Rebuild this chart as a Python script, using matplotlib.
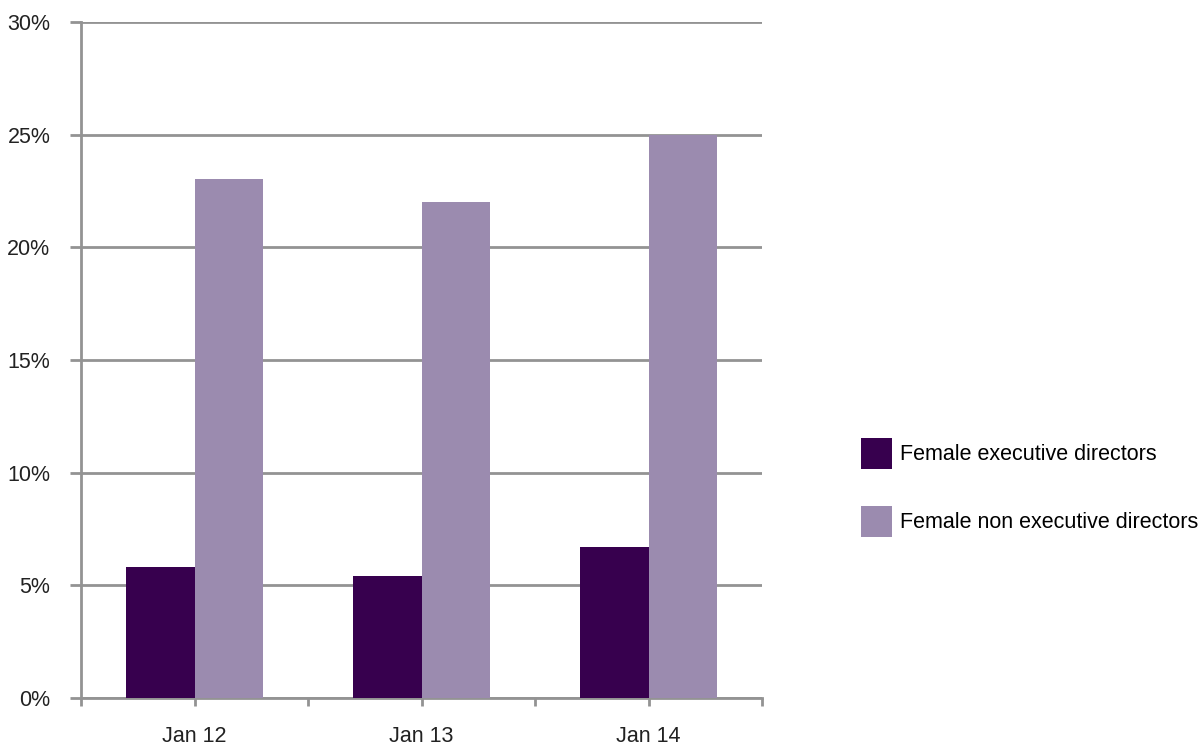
import matplotlib.pyplot as plt
import numpy as np

plt.rcParams["font.family"] = ["Liberation Sans", "DejaVu Sans"]

# data (percent)
categories = ["Jan 12", "Jan 13", "Jan 14"]
exec_directors = [5.8, 5.4, 6.7]
non_exec_directors = [23.05, 22.0, 25.0]
series_labels = ["Female executive directors", "Female non executive directors"]
y_ticks = [0, 5, 10, 15, 20, 25, 30]

DARK = "#37004E"
LIGHT = "#9B8BAF"
GRID = "#939393"
TEXT = "#222222"
FS = 15.5

fig = plt.figure(figsize=(12, 7.47), dpi=100)
ax = fig.add_axes([81 / 1200, 1 - 698 / 747, (762 - 81) / 1200, (698 - 22) / 747])

x = np.arange(len(categories))
w = 0.3
ax.bar(x - w / 2, exec_directors, width=w, color=DARK, label=series_labels[0], zorder=3)
ax.bar(x + w / 2, non_exec_directors, width=w, color=LIGHT, label=series_labels[1], zorder=3)

ax.set_xlim(-0.5, len(categories) - 0.5)
ax.set_ylim(0, 30)
ax.set_yticks(y_ticks)
ax.set_yticklabels([f"{t}%" for t in y_ticks])
ax.set_xticks(x)
ax.set_xticklabels(categories)
ax.set_xticks(np.arange(len(categories) + 1) - 0.5, minor=True)

ax.grid(axis="y", color=GRID, linewidth=2, zorder=0)
ax.set_axisbelow(True)
for side in ["top", "right"]:
    ax.spines[side].set_visible(False)
for side in ["left", "bottom"]:
    ax.spines[side].set_color(GRID)
    ax.spines[side].set_linewidth(2)

ax.tick_params(axis="y", length=8, width=2, color=GRID, pad=14, labelsize=FS, labelcolor=TEXT)
ax.tick_params(axis="x", which="both", length=6, width=2, color=GRID, pad=14, labelsize=FS, labelcolor=TEXT)

ax.legend(loc="upper left", bbox_to_anchor=(861 / 1200, 1 - 438 / 747),
          bbox_transform=fig.transFigure, frameon=False, fontsize=FS,
          handlelength=1.44, handleheight=1.84, handletextpad=0.37,
          labelspacing=1.72, borderpad=0, borderaxespad=0)

fig.savefig("out.png", dpi=100)
